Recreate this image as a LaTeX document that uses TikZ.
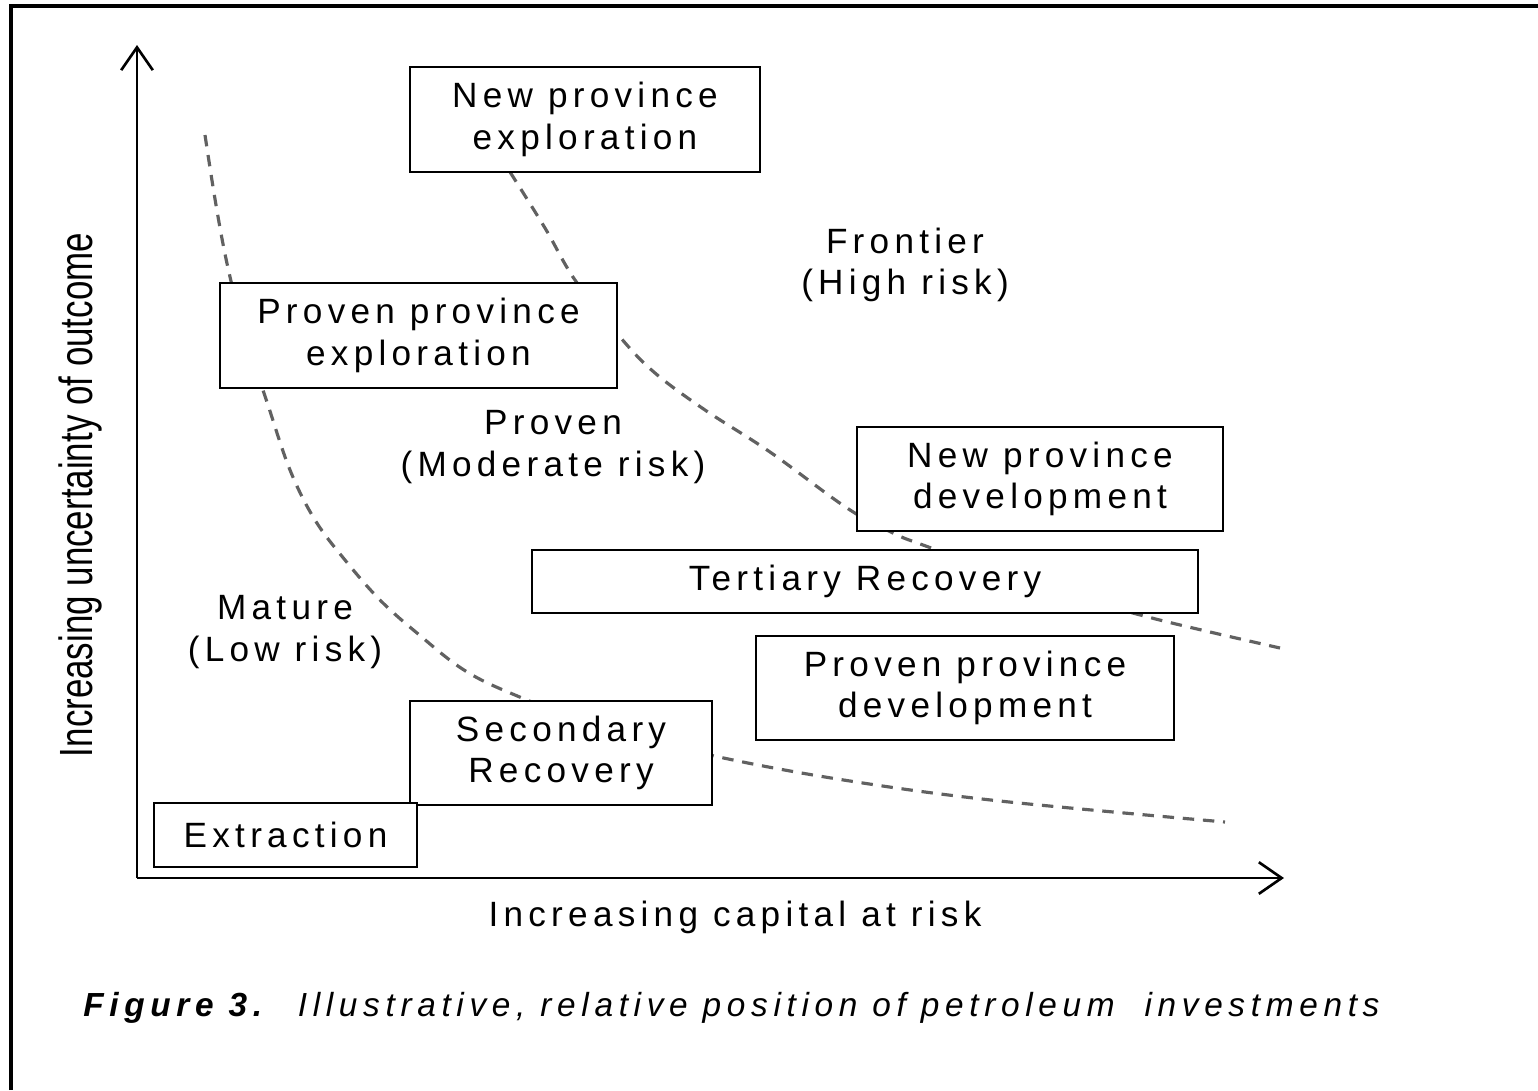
\documentclass[tikz,border=0pt]{standalone}
\usepackage{graphicx}
\usepackage{fontspec}
\setmainfont{Liberation Sans}[LetterSpace=15]
\newfontfamily\plainfont{Liberation Sans}
\newfontfamily\captionfont{Liberation Sans}[LetterSpace=17]
\usetikzlibrary{arrows.meta}
\begin{document}
\begin{tikzpicture}[x=0.02cm,y=-0.02cm,
	stage/.style={draw,line width=1.6pt,fill=white,align=center,inner sep=0pt,font=\fontsize{20}{23.5}\selectfont},
	zone/.style={align=center,inner sep=0pt,font=\fontsize{20}{23.5}\selectfont},
	riskline/.style={dash pattern=on 6.5pt off 5pt,line width=1.8pt,color=black!62},
	axis/.style={line width=1.5pt,-{Straight Barb[length=13pt,width=18pt,line width=1.5pt]}}]
	\useasboundingbox (0,0) rectangle (1538,1090);
	\draw[line width=2.2pt] (11,1090) -- (11,6) -- (1538,6);
	% risk boundaries
	\draw[riskline] plot[smooth,tension=0.6] coordinates {(205,135) (216,205) (228,268) (245,335) (267,402) (290,470) (315,520) (345,560) (380,600) (417,633) (464,670) (515,695) (600,727) (719,757) (850,781) (1000,801) (1225,822)};
	\draw[riskline] plot[smooth,tension=0.6] coordinates {(510,172) (545,228) (575,280) (620,337) (655,373) (705,410) (770,452) (847,508) (893,533) (923,545) (1000,572) (1080,598) (1148,617) (1210,632) (1280,648)};
	% axes
	\coordinate (origin) at (137,878);
	\coordinate (ytop) at (137,45);
	\coordinate (xend) at (1284,878);
	\draw[axis] (origin) -- (ytop);
	\draw[axis] (origin) -- (xend);
	% investments
	\node[stage,minimum width=7cm,minimum height=2.1cm] (npexp) at (585,119.5) {New province\\exploration};
	\node[stage,minimum width=7.94cm,minimum height=2.1cm] (ppexp) at (418.5,335.5) {Proven province\\exploration};
	\node[stage,minimum width=7.32cm,minimum height=2.08cm] (npdev) at (1040,479) {New province\\development};
	\node[stage,minimum width=13.32cm,minimum height=1.26cm] (tertrec) at (865,581.5) {Tertiary\ Recovery};
	\node[stage,minimum width=8.36cm,minimum height=2.08cm] (ppdev) at (965,688) {Proven province\\development};
	\node[stage,minimum width=6.04cm,minimum height=2.08cm] (secrec) at (561,753) {Secondary\\Recovery};
	\node[stage,minimum width=5.26cm,minimum height=1.28cm] (extract) at (285.5,835) {Extraction};
	% zones
	\node[zone] (frontier) at (905,265) {Frontier\\(High risk)};
	\node[zone] (proven) at (553,447) {Proven\\(Moderate risk)};
	\node[zone] (mature) at (285,632) {Mature\\(Low risk)};
	% labels
	\node[zone] (xlabel) at (735,917) {Increasing capital at risk};
	\node[rotate=90,inner sep=0pt] (ylabel) at (80,495) {\plainfont\fontsize{26.5}{30}\selectfont\scalebox{0.75}[1]{Increasing uncertainty of outcome}};
	\node[anchor=west,inner sep=0pt,font=\captionfont\fontsize{19}{22}\selectfont] (caption) at (83,1008) {\textbf{\textit{Figure 3.}}\hspace{0.6cm}\textit{Illustrative, relative position of petroleum\ \ investments}};
\end{tikzpicture}
\end{document}
